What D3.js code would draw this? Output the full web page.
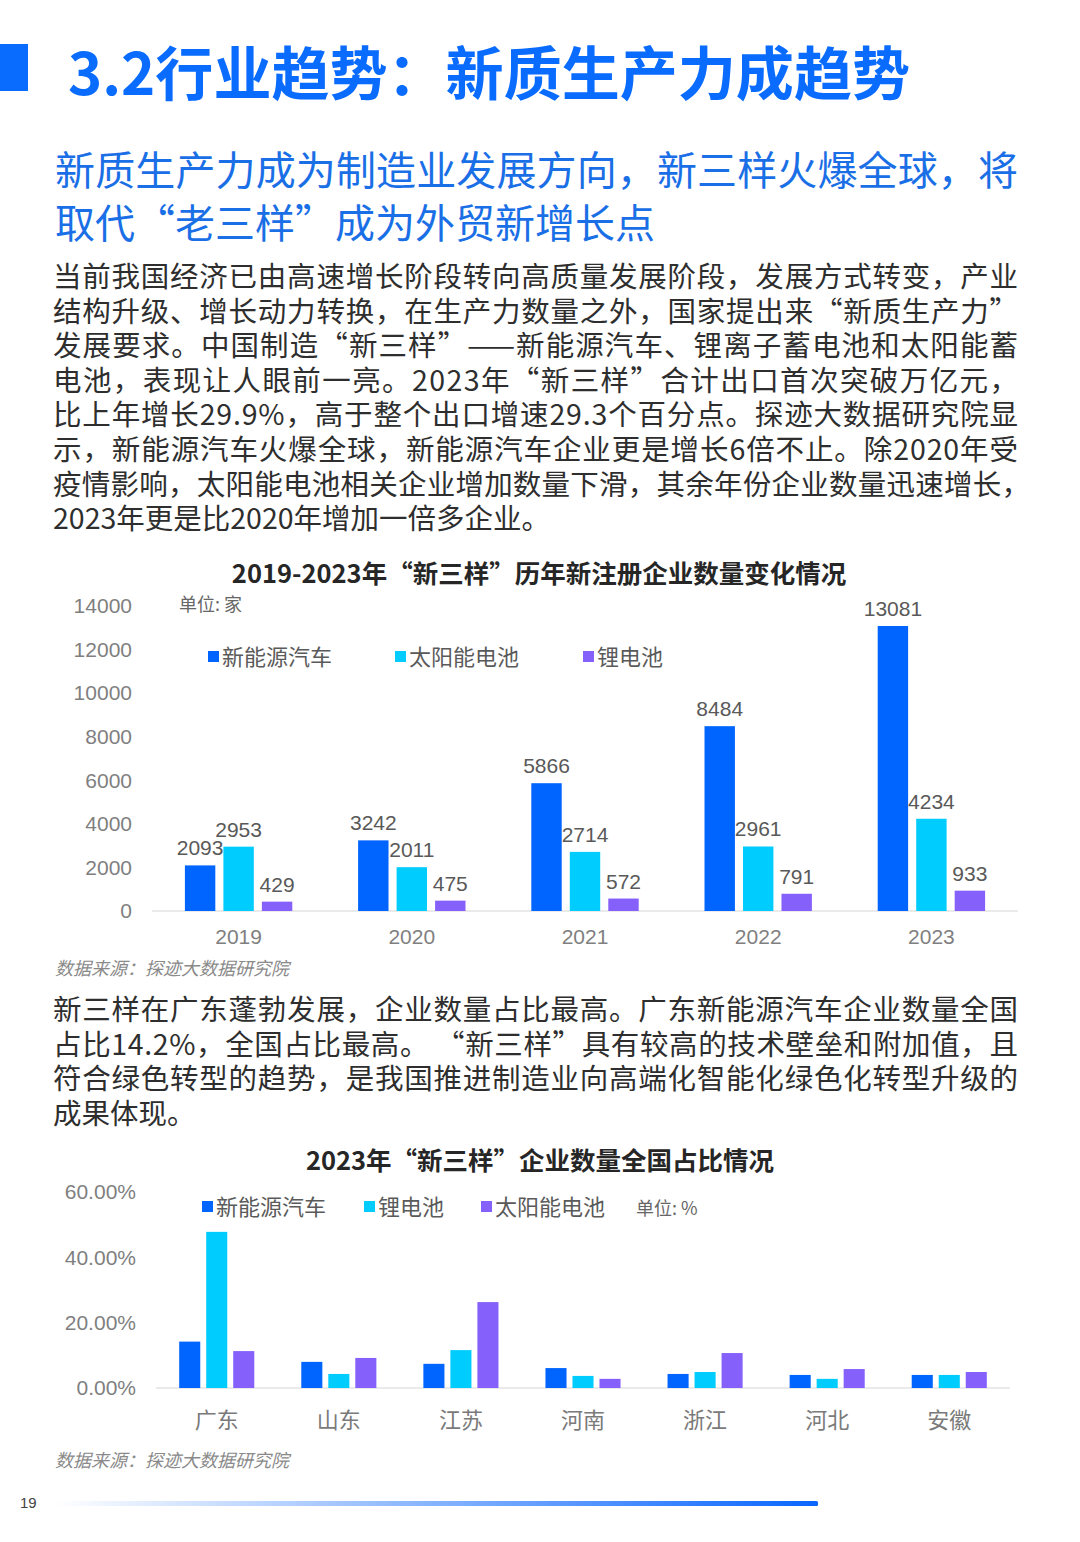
<!DOCTYPE html>
<html>
<head>
<meta charset="utf-8">
<script src="https://cdn.jsdelivr.net/npm/d3@7"></script>
<style>
  body { margin: 0; background: #fff; }
  svg text { font-family: "Noto Sans CJK SC", "Noto Sans", sans-serif; }
  .num { font-family: "Liberation Sans", Arial, sans-serif; }
</style>
</head>
<body>
<div id="page"></div>
<script>
// chart 1: new registrations per year
const years = ['2019', '2020', '2021', '2022', '2023'];
const series1 = ['新能源汽车', '太阳能电池', '锂电池'];
const nev = [2093, 3242, 5866, 8484, 13081];
const solar = [2953, 2011, 2714, 2961, 4234];
const lithium = [429, 475, 572, 791, 933];
const ticks1 = [0, 2000, 4000, 6000, 8000, 10000, 12000, 14000];

// chart 2: share of national total, 2023 (%)
const provinces = ['广东', '山东', '江苏', '河南', '浙江', '河北', '安徽'];
const series2 = ['新能源汽车', '锂电池', '太阳能电池'];
const shareNev = [14.2, 8.0, 7.4, 6.1, 4.3, 4.0, 4.0];
const shareLithium = [47.8, 4.3, 11.6, 3.7, 4.9, 2.8, 4.0];
const shareSolar = [11.3, 9.2, 26.3, 2.8, 10.7, 5.8, 4.9];
const ticks2 = [0, 20, 40, 60];

const para1 = [
  '当前我国经济已由高速增长阶段转向高质量发展阶段，发展方式转变，产业',
  '结构升级、增长动力转换，在生产力数量之外，国家提出来“新质生产力”',
  '发展要求。中国制造“新三样”——新能源汽车、锂离子蓄电池和太阳能蓄',
  '电池，表现让人眼前一亮。2023年“新三样”合计出口首次突破万亿元，',
  '比上年增长29.9%，高于整个出口增速29.3个百分点。探迹大数据研究院显',
  '示，新能源汽车火爆全球，新能源汽车企业更是增长6倍不止。除2020年受',
  '疫情影响，太阳能电池相关企业增加数量下滑，其余年份企业数量迅速增长，',
  '2023年更是比2020年增加一倍多企业。'
];
const para2 = [
  '新三样在广东蓬勃发展，企业数量占比最高。广东新能源汽车企业数量全国',
  '占比14.2%，全国占比最高。 “新三样”具有较高的技术壁垒和附加值，且',
  '符合绿色转型的趋势，是我国推进制造业向高端化智能化绿色化转型升级的',
  '成果体现。'
];

const colors = { '新能源汽车': '#0064ff', '太阳能电池': '#00ccfd', '锂电池': '#8660fb' };
const colors2 = { '新能源汽车': '#0064ff', '锂电池': '#00ccfd', '太阳能电池': '#8660fb' };

const svg = d3.select('#page').append('svg')
    .attr('width', 1080)
    .attr('height', 1542);

// header
svg.append('rect').attr('x', 0).attr('y', 44).attr('width', 28).attr('height', 47).attr('fill', '#0a6cff');
svg.append('text')
    .attr('x', 68).attr('y', 95)
    .attr('font-size', 58).attr('font-weight', 'bold').attr('fill', '#0a6cff')
    .attr('textLength', 842).attr('lengthAdjust', 'spacingAndGlyphs')
    .text('3.2行业趋势：新质生产力成趋势');

const sub = ['新质生产力成为制造业发展方向，新三样火爆全球，将', '取代“老三样”成为外贸新增长点'];
svg.selectAll('text.sub').data(sub).enter().append('text')
    .attr('class', 'sub')
    .attr('x', 55)
    .attr('y', (d, i) => 185 + i * 53)
    .attr('font-size', 40).attr('fill', '#1a6fe6')
    .attr('textLength', (d, i) => i === 0 ? 963 : null)
    .attr('lengthAdjust', 'spacing')
    .text(d => d);

function paragraph(lines, top, lastWidth) {
    svg.append('g').selectAll('text').data(lines).enter().append('text')
        .attr('x', 53)
        .attr('y', (d, i) => top + i * 34.6)
        .attr('font-size', 28.5).attr('fill', '#2e2e2e')
        .attr('textLength', (d, i) => i < lines.length - 1 ? (lastWidth[i] || 965) : null)
        .attr('lengthAdjust', 'spacing')
        .text(d => d);
}
paragraph(para1, 287, { 6: 977 });
paragraph(para2, 1020, {});

// legend helper
function legend(items, colorMap, xs, y) {
    const g = svg.append('g');
    items.forEach((name, i) => {
        g.append('rect').attr('x', xs[i]).attr('y', y - 6).attr('width', 11).attr('height', 11).attr('fill', colorMap[name]);
        g.append('text').attr('x', xs[i] + 14).attr('y', y + 8)
            .attr('font-size', 22).attr('fill', '#5a5a5a').text(name);
    });
}

// ---------- chart 1 ----------
svg.append('text').attr('x', 539).attr('y', 583).attr('text-anchor', 'middle')
    .attr('font-size', 25.5).attr('font-weight', 'bold').attr('fill', '#262626')
    .text('2019-2023年“新三样”历年新注册企业数量变化情况');
svg.append('text').attr('x', 179).attr('y', 611).attr('font-size', 18).attr('fill', '#666')
    .text('单位: 家');
legend(series1, colors, [208, 395, 583], 657);

const y1 = d3.scaleLinear().domain([0, 14000]).range([911, 606]);
const x1 = d3.scaleBand().domain(years).range([152, 1018]).paddingInner(0.38).paddingOuter(0.19);
const sx1 = d3.scaleBand().domain(series1).range([0, x1.bandwidth()]).paddingInner(0.21);

const yAxis1 = d3.axisLeft(y1).tickValues(ticks1).tickSize(0).tickPadding(20).tickFormat(d3.format('d'));
const ya1 = svg.append('g').attr('transform', 'translate(152,0)').call(yAxis1);
ya1.select('.domain').remove();
ya1.selectAll('text').attr('class', 'num').attr('font-size', 21).attr('fill', '#7f7f7f');

svg.append('line').attr('x1', 152).attr('x2', 1018).attr('y1', y1(0)).attr('y2', y1(0))
    .attr('stroke', '#e3e3e3').attr('stroke-width', 1.5);

const xa1 = svg.append('g').attr('transform', `translate(0,${y1(0)})`)
    .call(d3.axisBottom(x1).tickSize(0).tickPadding(18));
xa1.select('.domain').remove();
xa1.selectAll('text').attr('class', 'num').attr('font-size', 21).attr('fill', '#7f7f7f');

const rows1 = years.map((yr, i) => ({
    year: yr,
    vals: [
        { s: '新能源汽车', v: nev[i] },
        { s: '太阳能电池', v: solar[i] },
        { s: '锂电池', v: lithium[i] }
    ]
}));
const grp1 = svg.append('g').selectAll('g').data(rows1).enter().append('g')
    .attr('transform', d => `translate(${x1(d.year)},0)`);
grp1.selectAll('rect').data(d => d.vals).enter().append('rect')
    .attr('x', d => sx1(d.s)).attr('width', sx1.bandwidth())
    .attr('y', d => y1(d.v)).attr('height', d => y1(0) - y1(d.v))
    .attr('fill', d => colors[d.s]);
grp1.selectAll('text').data(d => d.vals).enter().append('text')
    .attr('class', 'num')
    .attr('x', d => sx1(d.s) + sx1.bandwidth() / 2)
    .attr('y', d => y1(d.v) - 10)
    .attr('text-anchor', 'middle').attr('font-size', 21).attr('fill', '#595959')
    .text(d => d.v);

svg.append('text').attr('x', 55).attr('y', 975).attr('font-size', 18).attr('font-style', 'italic')
    .attr('fill', '#8a8a8a').text('数据来源：探迹大数据研究院');

// ---------- chart 2 ----------
svg.append('text').attr('x', 540).attr('y', 1170).attr('text-anchor', 'middle')
    .attr('font-size', 25.5).attr('font-weight', 'bold').attr('fill', '#262626')
    .text('2023年“新三样”企业数量全国占比情况');
legend(series2, colors2, [202, 364, 481], 1207);
svg.append('text').attr('x', 636).attr('y', 1215).attr('font-size', 18).attr('fill', '#666')
    .text('单位: %');

const y2 = d3.scaleLinear().domain([0, 60]).range([1388, 1192]);
const x2 = d3.scaleBand().domain(provinces).range([156, 1010]).paddingInner(0.385).paddingOuter(0.19);
const sx2 = d3.scaleBand().domain(series2).range([0, x2.bandwidth()]).paddingInner(0.22);

const ya2 = svg.append('g').attr('transform', 'translate(156,0)')
    .call(d3.axisLeft(y2).tickValues(ticks2).tickSize(0).tickPadding(20).tickFormat(d => d3.format('.2f')(d) + '%'));
ya2.select('.domain').remove();
ya2.selectAll('text').attr('class', 'num').attr('font-size', 21).attr('fill', '#7f7f7f');

svg.append('line').attr('x1', 156).attr('x2', 1010).attr('y1', y2(0)).attr('y2', y2(0))
    .attr('stroke', '#e3e3e3').attr('stroke-width', 1.5);

const xa2 = svg.append('g').attr('transform', `translate(0,${y2(0)})`)
    .call(d3.axisBottom(x2).tickSize(0).tickPadding(24));
xa2.select('.domain').remove();
xa2.selectAll('text').attr('font-size', 22).attr('fill', '#7a7a7a');

const rows2 = provinces.map((p, i) => ({
    prov: p,
    vals: [
        { s: '新能源汽车', v: shareNev[i] },
        { s: '锂电池', v: shareLithium[i] },
        { s: '太阳能电池', v: shareSolar[i] }
    ]
}));
svg.append('g').selectAll('g').data(rows2).enter().append('g')
    .attr('transform', d => `translate(${x2(d.prov)},0)`)
    .selectAll('rect').data(d => d.vals).enter().append('rect')
    .attr('x', d => sx2(d.s)).attr('width', sx2.bandwidth())
    .attr('y', d => y2(d.v)).attr('height', d => y2(0) - y2(d.v))
    .attr('fill', d => colors2[d.s]);

svg.append('text').attr('x', 55).attr('y', 1467).attr('font-size', 18).attr('font-style', 'italic')
    .attr('fill', '#8a8a8a').text('数据来源：探迹大数据研究院');

// footer
svg.append('text').attr('class', 'num').attr('x', 20).attr('y', 1508).attr('font-size', 15).attr('fill', '#444').text('19');
const grad = svg.append('defs').append('linearGradient').attr('id', 'footGrad');
grad.append('stop').attr('offset', '0%').attr('stop-color', '#0a66ff').attr('stop-opacity', 0);
grad.append('stop').attr('offset', '100%').attr('stop-color', '#0a66ff').attr('stop-opacity', 1);
svg.append('rect').attr('x', 55).attr('y', 1501).attr('width', 763).attr('height', 5).attr('rx', 1.5).attr('fill', 'url(#footGrad)');
</script>
</body>
</html>
